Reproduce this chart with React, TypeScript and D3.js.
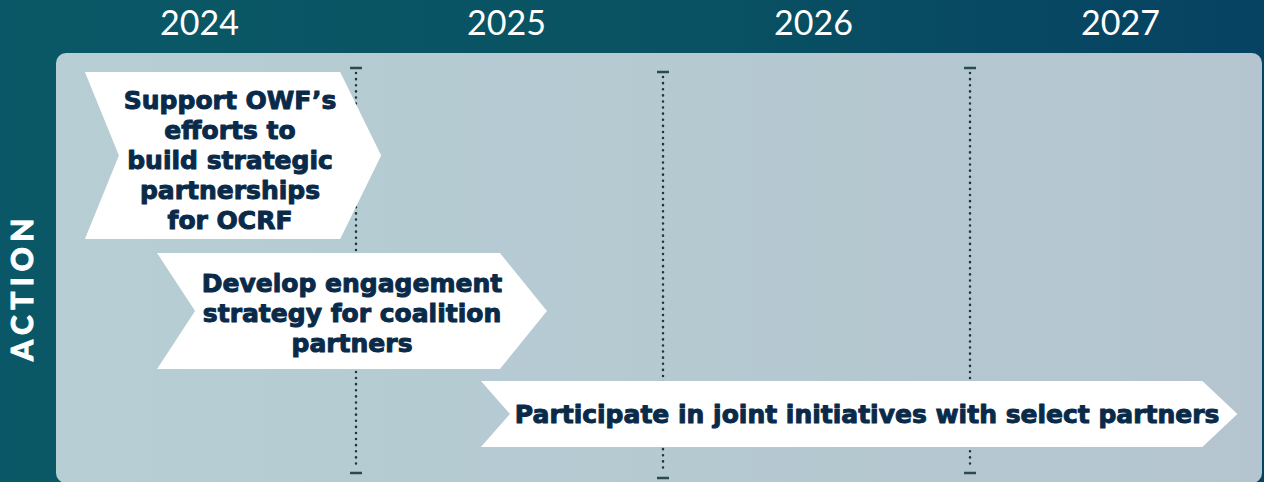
import React from "react";
import * as d3 from "d3";

const years = ["2024", "2025", "2026", "2027"];
const dividerYears = [2025, 2026, 2027];
const actionLabels = [
  ["Support OWF\u2019s", "efforts to", "build strategic", "partnerships", "for OCRF"],
  ["Develop engagement", "strategy for coalition", "partners"],
  ["Participate in joint initiatives with select partners"],
];
const actionStart = [2024.117, 2024.352, 2025.407];
const actionEnd = [2025.082, 2025.622, 2027.871];
const sideLabel = "ACTION";

const W = 1264;
const H = 482;

export default function App() {
  const x = d3.scaleLinear().domain([2024, 2028]).range([49, 1277]);

  // vertical layout per row: top, bottom, notch depth, tip depth
  const rows = [
    { top: 72, bottom: 239, notch: 34, tip: 41, lh: 30, dx: -3, dy: 13 },
    { top: 253, bottom: 369, notch: 38, tip: 47, lh: 30, dx: 0, dy: 11 },
    { top: 381, bottom: 447, notch: 29, tip: 35, lh: 30, dx: 8, dy: 9 },
  ];

  const dividerTops = [68, 72, 68];
  const dividerBottoms = [473, 478, 473];

  return (
    <svg
      width={W}
      height={H}
      style={{ position: "absolute", left: 0, top: 0, display: "block" }}
    >
      <defs>
        <linearGradient id="bg" x1="0" x2="1" y1="0" y2="0">
          <stop offset="0" stopColor="#0a5867" />
          <stop offset="0.5" stopColor="#095363" />
          <stop offset="1" stopColor="#064262" />
        </linearGradient>
        <linearGradient id="panel" x1="0" x2="1" y1="0" y2="0">
          <stop offset="0" stopColor="#b6ced4" />
          <stop offset="1" stopColor="#b4c5cf" />
        </linearGradient>
      </defs>
      <rect x={0} y={0} width={W} height={H} fill="url(#bg)" />
      <rect x={56} y={53} width={1206} height={430} rx={10} ry={10} fill="url(#panel)" />

      {years.map((y) => (
        <text
          key={y}
          x={x(+y + 0.5) - 3}
          y={35}
          textAnchor="middle"
          fill="#ffffff"
          fontFamily="Lato, 'Open Sans', sans-serif"
          fontWeight={400}
          fontSize={34}
        >
          {y}
        </text>
      ))}

      <text
        transform={`translate(33,287) rotate(-90)`}
        textAnchor="middle"
        fill="#ffffff"
        stroke="#ffffff"
        strokeWidth={0.9}
        fontFamily="Lato, 'Open Sans', sans-serif"
        fontWeight={900}
        fontSize={30}
        letterSpacing={5.5}
      >
        {sideLabel}
      </text>

      {dividerYears.map((d, i) => {
        const dx = x(d);
        return (
          <g key={d}>
            <line
              x1={dx}
              x2={dx}
              y1={dividerTops[i] + 5}
              y2={dividerBottoms[i] - 5}
              stroke="#1c383f"
              strokeWidth={2.5}
              strokeDasharray="0.1 6"
              strokeLinecap="round"
            />
            <line x1={dx - 6} x2={dx + 6} y1={dividerTops[i]} y2={dividerTops[i]} stroke="#2b4a50" strokeWidth={2.5} />
            <line x1={dx - 6} x2={dx + 6} y1={dividerBottoms[i]} y2={dividerBottoms[i]} stroke="#2b4a50" strokeWidth={2.5} />
          </g>
        );
      })}

      {actionLabels.map((lines, i) => {
        const r = rows[i];
        const x0 = x(actionStart[i]);
        const x1 = x(actionEnd[i]);
        const mid = (r.top + r.bottom) / 2;
        const pts: [number, number][] = [
          [x0, r.top],
          [x1 - r.tip, r.top],
          [x1, mid],
          [x1 - r.tip, r.bottom],
          [x0, r.bottom],
          [x0 + r.notch, mid],
        ];
        const line = d3.line();
        const cx = (x0 + x1) / 2 + r.dx;
        const n = lines.length;
        const firstBase = mid - ((n - 1) * r.lh) / 2 + r.dy;
        return (
          <g key={i}>
            <path d={line(pts) + "Z"} fill="#ffffff" />
            {lines.map((t, j) => (
              <text
                key={j}
                x={cx}
                y={firstBase + j * r.lh}
                textAnchor="middle"
                fill="#0a2a49"
                stroke="#0a2a49"
                strokeWidth={1}
                strokeLinejoin="round"
                fontFamily="'DejaVu Sans', 'Liberation Sans', sans-serif"
                fontWeight={700}
                fontSize={25}
              >
                {t}
              </text>
            ))}
          </g>
        );
      })}
    </svg>
  );
}
